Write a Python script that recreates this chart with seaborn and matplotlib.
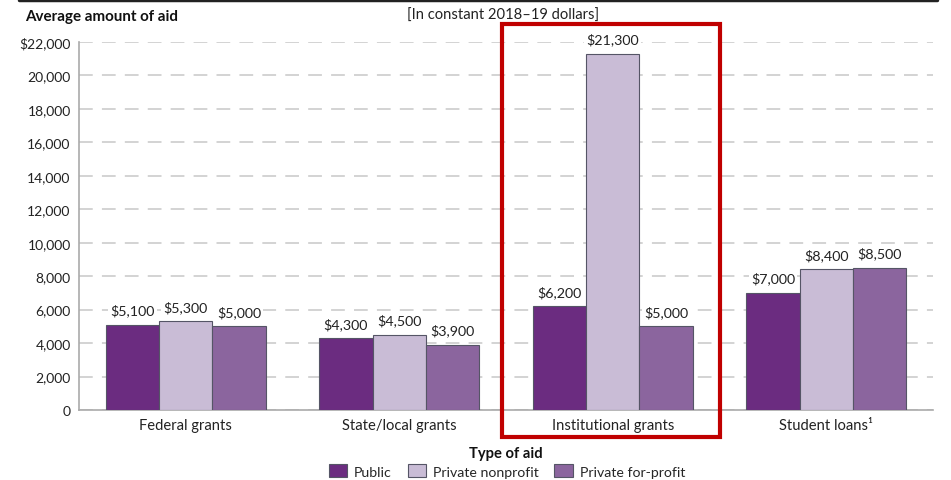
import matplotlib
matplotlib.use("Agg")
import matplotlib.pyplot as plt
import seaborn as sns
import pandas as pd
from matplotlib.patches import Rectangle, Patch
from matplotlib.lines import Line2D
from matplotlib.ticker import FuncFormatter

categories = ["Federal grants", "State/local grants", "Institutional grants", "Student loans\u00b9"]
sectors = ["Public", "Private nonprofit", "Private for-profit"]
public = [5100, 4300, 6200, 7000]
nonprofit = [5300, 4500, 21300, 8400]
forprofit = [5000, 3900, 5000, 8500]
colors = ["#6B2C80", "#C9BCD6", "#8B659E"]

rows = []
for vals, s in zip([public, nonprofit, forprofit], sectors):
    for c, v in zip(categories, vals):
        rows.append({"Type of aid": c, "Sector": s, "Amount": v})
df = pd.DataFrame(rows)

sns.set_theme(style="white")
plt.rcParams["font.family"] = ["Lato", "DejaVu Sans"]

fig = plt.figure(figsize=(9.51, 4.81), dpi=100)
ax = fig.add_axes([79/951, 1-411/481, (933-79)/951, (411-43)/481])

sns.barplot(data=df, x="Type of aid", y="Amount", hue="Sector", order=categories,
            hue_order=sectors, palette=colors, width=0.75, edgecolor="#555566",
            linewidth=0.8, saturation=1, ax=ax, legend=False, zorder=3)

ax.set_ylim(0, 22000)
ax.set_xlim(-0.5, 3.5)
ax.set_yticks(range(0, 22001, 2000))
ax.yaxis.set_major_formatter(FuncFormatter(lambda v, p: "$22,000" if v == 22000 else f"{int(v):,}"))
ax.tick_params(axis="y", labelsize=10, length=0, pad=6, labelcolor="#222222")
ax.tick_params(axis="x", labelsize=10.6, length=0, pad=6, labelcolor="#222222")
ax.grid(axis="y", color="#c8c8c8", linestyle=(0, (9, 6)), linewidth=1.1, zorder=0)
ax.set_axisbelow(True)
for s in ["top", "right"]:
    ax.spines[s].set_visible(False)
ax.spines["left"].set_color("#aaaaaa")
ax.spines["bottom"].set_color("#aaaaaa")
ax.spines["left"].set_linewidth(1.2)
ax.spines["bottom"].set_linewidth(1.2)
ax.set_ylabel("")
ax.set_xlabel("Type of aid", fontsize=10.6, fontweight="bold", labelpad=10, color="#111111")

for cont in ax.containers:
    for bar in cont:
        h = bar.get_height()
        ax.text(bar.get_x() + bar.get_width()/2, h + 500, f"${int(h):,}", ha="center", va="bottom",
                fontsize=10.3, color="#222222", zorder=4,
                bbox=dict(facecolor="white", edgecolor="none", pad=1.5))

fig.text(25/951, 1-17/481, "Average amount of aid", fontsize=10.9, fontweight="bold", va="center", color="#111111")
fig.text(503/951, 1-16/481, "[In constant 2018\u201319 dollars]", fontsize=10.6, ha="center", va="center", color="#222222")
fig.add_artist(Line2D([19/951, 937/951], [1-1/481, 1-1/481], color="#222222", linewidth=2.5, transform=fig.transFigure))

fig.add_artist(Rectangle((502/951, 1-438/481), (720-502)/951, (438-25)/481, transform=fig.transFigure,
                         fill=False, edgecolor="#C00000", linewidth=3))

handles = [Patch(facecolor=c, edgecolor="#555566", linewidth=0.8) for c in colors]
fig.legend(handles, sectors, loc="center", bbox_to_anchor=(507/951, 1-472/481), ncol=3, frameon=False,
           fontsize=10.2, handlelength=1.3, handleheight=1.0, columnspacing=1.1, handletextpad=0.5,
           borderaxespad=0, borderpad=0)

fig.savefig("out.png", dpi=100)
